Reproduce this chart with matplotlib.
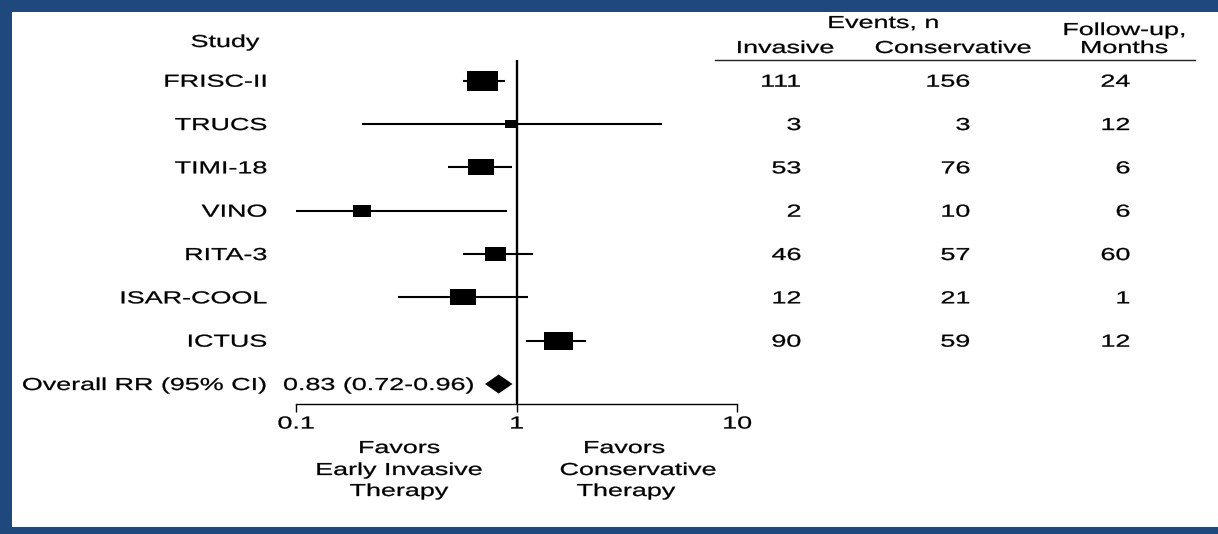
import matplotlib
matplotlib.use('Agg')
import matplotlib.pyplot as plt
import numpy as np
from matplotlib.patheffects import AbstractPathEffect
from matplotlib.transforms import Affine2D, blended_transform_factory, offset_copy
from matplotlib.patches import Rectangle
from matplotlib.lines import Line2D
from matplotlib.ticker import NullLocator

# trial data
studies = ['FRISC-II', 'TRUCS', 'TIMI-18', 'VINO', 'RITA-3', 'ISAR-COOL', 'ICTUS']
rr = [0.70, 0.94, 0.69, 0.20, 0.80, 0.57, 1.54]
ci_lo = [0.57, 0.20, 0.49, 0.10, 0.57, 0.29, 1.11]
ci_hi = [0.89, 4.56, 0.95, 0.91, 1.19, 1.13, 2.06]
weight = [31, 13, 27, 18, 21, 27, 29]          # box width, px
events_invasive = [111, 3, 53, 2, 46, 12, 90]
events_conservative = [156, 3, 76, 10, 57, 21, 59]
followup_months = [24, 12, 6, 6, 60, 1, 12]

overall_rr = 0.83
overall_lo = 0.72
overall_hi = 0.96

W, H = 1218, 534
FS = 12.5
SX = 1.55            # sideways stretch of the lettering
BLUE = '#1f497d'
ROW_PX = 43.33       # row pitch in px
ROW0_PX = 80.7

plt.rcParams['font.family'] = ['Liberation Sans', 'DejaVu Sans']


class Widen(AbstractPathEffect):
    """Draw glyphs stretched sideways (and a touch heavier), keeping the anchor."""

    def __init__(self, frac, weight=0.2):
        super().__init__()
        self.frac = frac
        self.weight = weight

    def draw_path(self, renderer, gc, tpath, affine, rgbFace=None):
        w = tpath.get_extents().x1
        shift = -(SX - 1) * w * self.frac
        tr = Affine2D().scale(SX, 1).translate(shift, 0) + affine
        gc0 = renderer.new_gc()
        gc0.copy_properties(gc)
        if rgbFace is not None:
            gc0.set_foreground(rgbFace)
        gc0.set_linewidth(self.weight)
        renderer.draw_path(gc0, tpath, tr, rgbFace)
        gc0.restore()


ANCHOR = {'left': 0.0, 'center': 0.5, 'right': 1.0}

fig = plt.figure(figsize=(W / 100, H / 100), dpi=100)
fig.patch.set_facecolor('white')

ax_top, ax_bot = 60, 404
ax = fig.add_axes([296 / W, 1 - ax_bot / H, (737 - 296) / W, (ax_bot - ax_top) / H])
ax.set_xscale('log')
ax.set_xlim(0.1, 10)
ax.set_ylim((ax_bot - ROW0_PX) / ROW_PX, (ax_top - ROW0_PX) / ROW_PX)

rows = np.arange(len(studies))
overall_row = len(studies)

ax.axvline(1, color='black', lw=1.7, zorder=1)
ax.hlines(rows, ci_lo, ci_hi, color='black', lw=1.5, zorder=2)

box = [(-1.6, -1), (1.6, -1), (1.6, 1), (-1.6, 1), (-1.6, -1)]
for i in rows:
    ax.plot(rr[i], i, marker=box, ms=weight[i] * 0.72, mew=0,
            color='black', linestyle='none', zorder=3)

h = 9.5 / ROW_PX
ax.fill([overall_lo, overall_rr, overall_hi, overall_rr],
        [overall_row, overall_row - h, overall_row, overall_row + h],
        color='black', lw=0, zorder=3)

for s in ['top', 'right', 'left']:
    ax.spines[s].set_visible(False)
ax.spines['bottom'].set_linewidth(1.0)
ax.set_yticks([])
ax.set_xticks([0.1, 1, 10], labels=['0.1', '1', '10'])
ax.xaxis.set_minor_locator(NullLocator())
ax.tick_params(axis='x', direction='out', length=6, width=1, pad=3, labelsize=FS)
for t in ax.get_xticklabels():
    t.set_path_effects([Widen(0.5)])


def put(x, y, s, ha='center', trans=None):
    if trans is None:
        x, y = x / W, 1 - y / H
        trans = fig.transFigure
    return fig.text(x, y, s, ha=ha, va='baseline', fontsize=FS, color='black',
                    transform=trans, path_effects=[Widen(ANCHOR[ha])])


# text tied to the plot rows
row_trans = offset_copy(blended_transform_factory(fig.transFigure, ax.transData),
                        fig=fig, y=-6, units='dots')

for i in rows:
    put(267 / W, i, studies[i], ha='right', trans=row_trans)
    put(801 / W, i, str(events_invasive[i]), ha='right', trans=row_trans)
    put(970 / W, i, str(events_conservative[i]), ha='right', trans=row_trans)
    put(1130 / W, i, str(followup_months[i]), ha='right', trans=row_trans)

put(267 / W, overall_row, 'Overall RR (95% CI)', ha='right', trans=row_trans)
put(283 / W, overall_row, f'{overall_rr:.2f} ({overall_lo:.2f}-{overall_hi:.2f})',
    ha='left', trans=row_trans)

# column headers
put(225, 47, 'Study')
put(883, 28, 'Events, n')
put(785, 53, 'Invasive')
put(953, 53, 'Conservative')
put(1124, 35, 'Follow-up,')
put(1124, 53, 'Months')
fig.add_artist(Line2D([715 / W, 1195 / W], [1 - 60 / H] * 2, color='#222222', lw=1))

# direction captions under the axis
for x, y, s in [(399, 453, 'Favors'), (399, 475, 'Early Invasive'), (399, 496, 'Therapy'),
                (624, 453, 'Favors'), (638, 475, 'Conservative'), (626, 496, 'Therapy')]:
    put(x, y, s)

# frame
fig.add_artist(Rectangle((0, 0), 12 / W, 1, transform=fig.transFigure, color=BLUE, lw=0))
fig.add_artist(Rectangle((0, 1 - 12 / H), 1, 12 / H, transform=fig.transFigure, color=BLUE, lw=0))
fig.add_artist(Rectangle((0, 0), 1, 7 / H, transform=fig.transFigure, color=BLUE, lw=0))

fig.savefig('out.png', dpi=100)
